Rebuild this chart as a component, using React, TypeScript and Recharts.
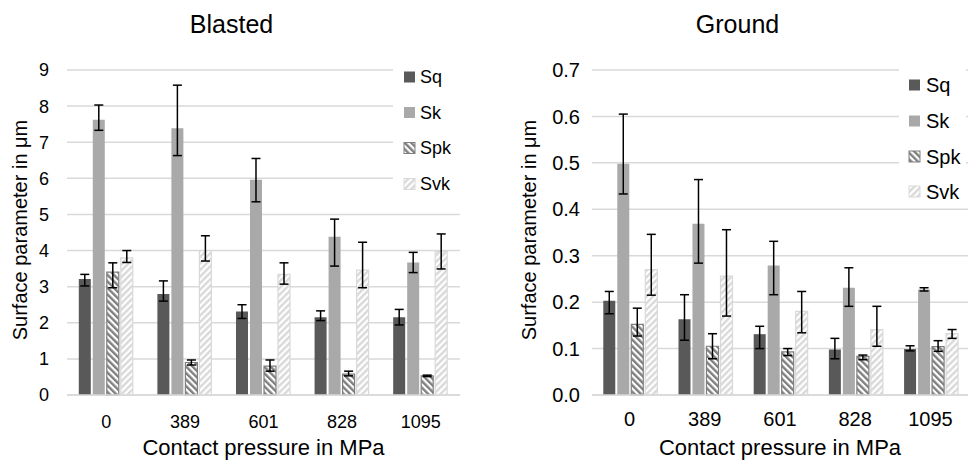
import React from 'react';
import { BarChart, Bar, XAxis, YAxis, CartesianGrid, ErrorBar } from 'recharts';

const categories = ['0', '389', '601', '828', '1095'];
const seriesNames = ['Sq', 'Sk', 'Spk', 'Svk'];

// Blasted (values and [minus, plus] error extents)
const blastedSq = [3.21, 2.8, 2.31, 2.15, 2.15];
const blastedSqErr = [[0.19, 0.13], [0.2, 0.36], [0.19, 0.19], [0.09, 0.18], [0.21, 0.22]];
const blastedSk = [7.62, 7.39, 5.96, 4.38, 3.67];
const blastedSkErr = [[0.29, 0.41], [0.76, 1.19], [0.61, 0.59], [0.81, 0.49], [0.28, 0.28]];
const blastedSpk = [3.4, 0.9, 0.8, 0.58, 0.53];
const blastedSpkErr = [[0.43, 0.26], [0.07, 0.07], [0.14, 0.17], [0.05, 0.08], [0.02, 0.02]];
const blastedSvk = [3.8, 4.0, 3.34, 3.46, 3.97];
const blastedSvkErr = [[0.13, 0.2], [0.29, 0.41], [0.27, 0.32], [0.49, 0.77], [0.48, 0.49]];

// Ground
const groundSq = [0.203, 0.163, 0.131, 0.098, 0.099];
const groundSqErr = [[0.028, 0.02], [0.045, 0.053], [0.031, 0.017], [0.02, 0.024], [0.004, 0.007]];
const groundSk = [0.498, 0.369, 0.279, 0.231, 0.227];
const groundSkErr = [[0.065, 0.107], [0.085, 0.095], [0.063, 0.052], [0.04, 0.043], [0.003, 0.004]];
const groundSpk = [0.152, 0.105, 0.093, 0.083, 0.104];
const groundSpkErr = [[0.025, 0.035], [0.027, 0.027], [0.008, 0.007], [0.007, 0.003], [0.01, 0.013]];
const groundSvk = [0.27, 0.256, 0.18, 0.141, 0.132];
const groundSvkErr = [[0.055, 0.076], [0.086, 0.1], [0.046, 0.043], [0.036, 0.05], [0.01, 0.009]];

const blastedTicks = [0, 1, 2, 3, 4, 5, 6, 7, 8, 9];
const groundTicks = [0, 0.1, 0.2, 0.3, 0.4, 0.5, 0.6, 0.7];

const chartTitles = ['Blasted', 'Ground'];
const xAxisTitle = 'Contact pressure in MPa';
const yAxisTitle = 'Surface parameter in μm';

function buildRows(sq: number[], sqE: number[][], sk: number[], skE: number[][], spk: number[], spkE: number[][], svk: number[], svkE: number[][]) {
  return categories.map((c, i) => ({
    cat: c,
    Sq: sq[i], SqErr: sqE[i],
    Sk: sk[i], SkErr: skE[i],
    Spk: spk[i], SpkErr: spkE[i],
    Svk: svk[i], SvkErr: svkE[i],
  }));
}

const blastedRows = buildRows(blastedSq, blastedSqErr, blastedSk, blastedSkErr, blastedSpk, blastedSpkErr, blastedSvk, blastedSvkErr);
const groundRows = buildRows(groundSq, groundSqErr, groundSk, groundSkErr, groundSpk, groundSpkErr, groundSvk, groundSvkErr);

function Patterns({ p }: { p: string }) {
  return (
    <defs>
      <pattern id={`${p}Spk`} width="4.6" height="4.6" patternUnits="userSpaceOnUse" patternTransform="rotate(-45)">
        <rect width="4.6" height="4.6" fill="#ffffff" />
        <rect width="2.4" height="4.6" fill="#7f7f7f" />
      </pattern>
      <pattern id={`${p}Svk`} width="4.6" height="4.6" patternUnits="userSpaceOnUse" patternTransform="rotate(45)">
        <rect width="4.6" height="4.6" fill="#ffffff" />
        <rect width="2.4" height="4.6" fill="#d9d9d9" />
      </pattern>
    </defs>
  );
}

function seriesStyle(name: string, p: string) {
  if (name === 'Sq') return { fill: '#595959', stroke: 'none' };
  if (name === 'Sk') return { fill: '#a9a9a9', stroke: 'none' };
  if (name === 'Spk') return { fill: `url(#${p}Spk)`, stroke: '#7f7f7f' };
  return { fill: `url(#${p}Svk)`, stroke: '#d9d9d9' };
}

type PanelProps = {
  rows: any[];
  domain: [number, number];
  ticks: number[];
  fmt: (v: number) => string;
  tickFont: number;
  yAxisWidth: number;
  yTickMargin: number;
  xTickMargin: number;
  rightMargin: number;
  p: string;
};

function Panel(props: PanelProps) {
  const { rows, domain, ticks, fmt, tickFont, yAxisWidth, yTickMargin, xTickMargin, rightMargin, p } = props;
  return (
    <BarChart
      width={486}
      height={461}
      data={rows}
      margin={{ top: 70, right: rightMargin, bottom: 0, left: 0 }}
      barCategoryGap="15%"
      barGap={2}
    >
      <Patterns p={p} />
      <CartesianGrid vertical={false} stroke="#d9d9d9" strokeWidth={1.5} />
      <XAxis
        dataKey="cat"
        height={66}
        interval={0}
        axisLine={{ stroke: '#d9d9d9', strokeWidth: 1.5 }}
        tickLine={false}
        tickSize={0}
        tickMargin={xTickMargin}
        tick={{ fill: '#000', fontSize: tickFont }}
      />
      <YAxis
        type="number"
        domain={domain}
        ticks={ticks}
        interval={0}
        tickFormatter={fmt}
        width={yAxisWidth}
        axisLine={false}
        tickLine={false}
        tickSize={0}
        tickMargin={yTickMargin}
        tick={{ fill: '#000', fontSize: tickFont }}
      />
      {seriesNames.map((name) => {
        const st = seriesStyle(name, p);
        return (
          <Bar key={name} dataKey={name} fill={st.fill} stroke={st.stroke} strokeWidth={1.2} isAnimationActive={false}>
            <ErrorBar dataKey={`${name}Err`} direction="y" width={4.5} stroke="#000" strokeWidth={1.5} isAnimationActive={false} />
          </Bar>
        );
      })}
    </BarChart>
  );
}

type LegendSpec = { boxX: number; boxW: number; sqX: number; textX: number; rowY: number[]; font: number };

function LegendBlock({ spec }: { spec: LegendSpec }) {
  return (
    <g>
      <rect x={spec.boxX} y={60} width={spec.boxW} height={142} fill="#ffffff" />
      {seriesNames.map((name, i) => {
        const st = seriesStyle(name, 'lg');
        const cy = spec.rowY[i];
        return (
          <g key={name}>
            <rect x={spec.sqX} y={cy - 5.5} width={11} height={11} fill={st.fill} stroke={st.stroke === 'none' ? 'none' : st.stroke} strokeWidth={1} />
            <text x={spec.textX} y={cy + spec.font * 0.355} fontSize={spec.font} fill="#000">{name}</text>
          </g>
        );
      })}
    </g>
  );
}

export default function App() {
  const leftLegend: LegendSpec = { boxX: 393, boxW: 69, sqX: 404, textX: 420, rowY: [77, 112.5, 148, 184], font: 18 };
  const rightLegend: LegendSpec = { boxX: 899, boxW: 67, sqX: 909, textX: 926, rowY: [85, 121, 156.5, 191.5], font: 20 };
  return (
    <div
      style={{
        position: 'absolute',
        left: 0,
        top: 0,
        width: 972,
        height: 461,
        background: '#ffffff',
        fontFamily: '"Liberation Sans", Arial, sans-serif',
        overflow: 'hidden',
      }}
    >
      <div style={{ position: 'absolute', left: 0, top: 0 }}>
        <Panel
          rows={blastedRows}
          domain={[0, 9]}
          ticks={blastedTicks}
          fmt={(v) => String(v)}
          tickFont={18}
          yAxisWidth={67}
          yTickMargin={18}
          xTickMargin={20}
          rightMargin={26}
          p="bl"
        />
      </div>
      <div style={{ position: 'absolute', left: 486, top: 0 }}>
        <Panel
          rows={groundRows}
          domain={[0, 0.7]}
          ticks={groundTicks}
          fmt={(v) => v.toFixed(1)}
          tickFont={20}
          yAxisWidth={106}
          yTickMargin={12}
          xTickMargin={17}
          rightMargin={4}
          p="gr"
        />
      </div>
      <svg width={972} height={461} style={{ position: 'absolute', left: 0, top: 0, pointerEvents: 'none' }}>
        <Patterns p="lg" />
        <text x={231.5} y={33} fontSize={25} textAnchor="middle" fill="#000">{chartTitles[0]}</text>
        <text x={737.5} y={33} fontSize={25} textAnchor="middle" fill="#000">{chartTitles[1]}</text>
        <text x={263.5} y={455} fontSize={22} textAnchor="middle" fill="#000">{xAxisTitle}</text>
        <text x={780} y={455} fontSize={22} textAnchor="middle" fill="#000">{xAxisTitle}</text>
        <text x={0} y={0} fontSize={20} textAnchor="middle" fill="#000" transform={`translate(${20 + 7}, 230) rotate(-90)`}>{yAxisTitle}</text>
        <text x={0} y={0} fontSize={20} textAnchor="middle" fill="#000" transform={`translate(${528.5 + 7}, 230) rotate(-90)`}>{yAxisTitle}</text>
        <LegendBlock spec={leftLegend} />
        <LegendBlock spec={rightLegend} />
      </svg>
    </div>
  );
}
